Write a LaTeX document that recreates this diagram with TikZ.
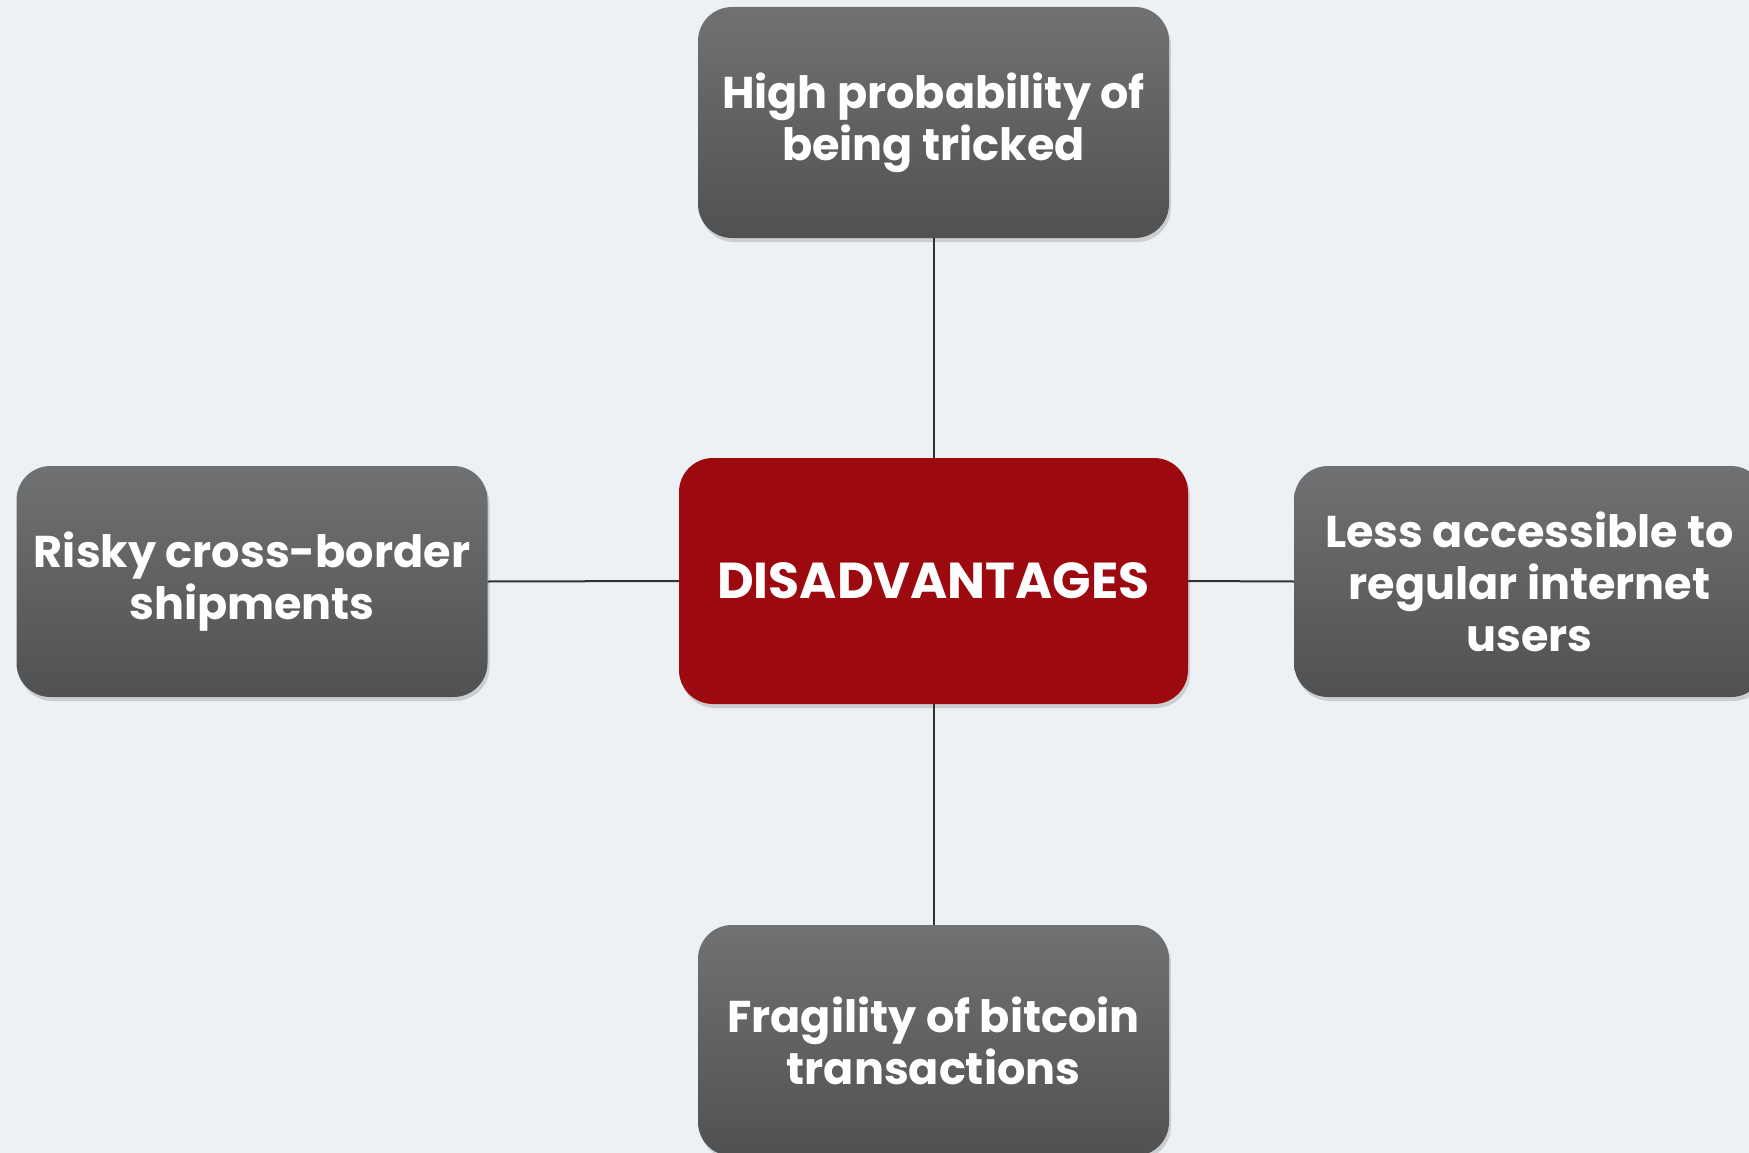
\documentclass[tikz,border=0pt]{standalone}
\usepackage{fontspec}
\setmainfont{Poppins}
\usetikzlibrary{shadows}
\definecolor{bgc}{RGB}{238,241,244}
\definecolor{boxtop}{RGB}{112,113,115}
\definecolor{boxbot}{RGB}{80,81,83}
\definecolor{redbox}{RGB}{156,10,16}
\definecolor{linec}{RGB}{50,50,52}
\tikzset{
  item/.style={rounded corners=34pt, minimum width=471pt, minimum height=231pt,
    top color=boxtop, bottom color=boxbot, draw=none, text=white,
    align=center, font=\fontsize{44.5}{52}\selectfont\bfseries,
    drop shadow={shadow xshift=2pt, shadow yshift=-4pt, opacity=0.3}},
  hub/.style={rounded corners=34pt, minimum width=509pt, minimum height=246pt,
    fill=redbox, draw=none, text=white, align=center,
    font=\fontsize{50.5}{56}\selectfont\bfseries,
    drop shadow={shadow xshift=2pt, shadow yshift=-4pt, opacity=0.3}},
  link/.style={draw=linec, line width=2pt}
}
\begin{document}
\begin{tikzpicture}[x=1pt,y=-1pt]
\fill[bgc] (0,0) rectangle (1749,1153);
\useasboundingbox (0,0) rectangle (1749,1153);
\node[hub] (c) at (933.5,581) {DISADVANTAGES};
\node[item] (t) at (933.5,122.5) {High probability of\\being tricked};
\node[item] (l) at (252,581.5) {Risky cross-border\\shipments};
\node[item] (r) at (1529.5,581.5) {Less accessible to\\regular internet\\users};
\node[item] (b) at (933.5,1040.5) {Fragility of bitcoin\\transactions};
\draw[link] (t.south) -- (c.north);
\draw[link] (c.south) -- (b.north);
\draw[link] (l.east) -- (c.west);
\draw[link] (c.east) -- (r.west);
\end{tikzpicture}
\end{document}
